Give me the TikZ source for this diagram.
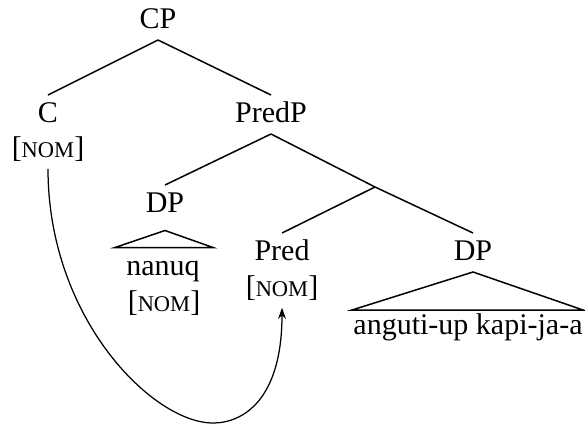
\documentclass[tikz,border=0pt]{standalone}
\usepackage{fontspec}
\setmainfont{Liberation Serif}
\usetikzlibrary{arrows.meta}

\newcommand{\nomfeat}{[{\fontsize{9}{10}\selectfont NOM}]}

\begin{document}
\begin{tikzpicture}[x=0.4pt, y=-0.4pt,
  cat/.style={anchor=base, inner sep=0pt, text height=10.6pt, text depth=4.6pt, font=\fontsize{12}{14}\selectfont},
  feat/.style={anchor=base, inner sep=0pt, text height=8.5pt, text depth=4.5pt, font=\fontsize{12}{14}\selectfont},
  branch/.style={line width=.6pt},
  agree/.style={line width=.5pt, -{Stealth[length=4.5pt, width=3.2pt]}}]

\useasboundingbox (0,0) rectangle (585,427);

% labels
\node [cat] (cp) at (158,28) {CP};
\node [cat] (c) at (48,122) {C};
\node [feat] (cnom) at (48,157) {\nomfeat};
\node [cat] (predp) at (271,122) {PredP};
\node [cat] (dpl) at (165,212) {DP};
\node [feat] (nanuq) at (163,275) {nanuq};
\node [feat] (dlnom) at (164,311) {\nomfeat};
\node [cat] (pred) at (282,260) {Pred};
\node [feat] (prednom) at (282,296) {\nomfeat};
\node [cat] (dpr) at (473,260) {DP};
\node [feat] (ang) at (468,334) {anguti-up kapi-ja-a};
\coordinate (predbar) at (375,187);
\coordinate (low) at (213,423);

% branches
\draw [branch] (cp.south) -- (c.north);
\draw [branch] (cp.south) -- (predp.north);
\draw [branch] (predp.south) -- (dpl.north);
\draw [branch] (predp.south) -- (predbar) -- (dpr.north);
\draw [branch] (predbar) -- (pred.north);

% triangles
\draw [branch] ([yshift=-2.6pt]dpl.south) -- +(-50,17) -- +(48,17) -- cycle;
\draw [branch] ([yshift=0pt]dpr.south) -- +(-121,38) -- +(110,38) -- cycle;

% feature sharing
\draw [agree] (cnom.south) .. controls +(0,150) and +(-60,0) .. (low)
  .. controls +(30,0) and +(0,92) .. (prednom.south);

\end{tikzpicture}
\end{document}
